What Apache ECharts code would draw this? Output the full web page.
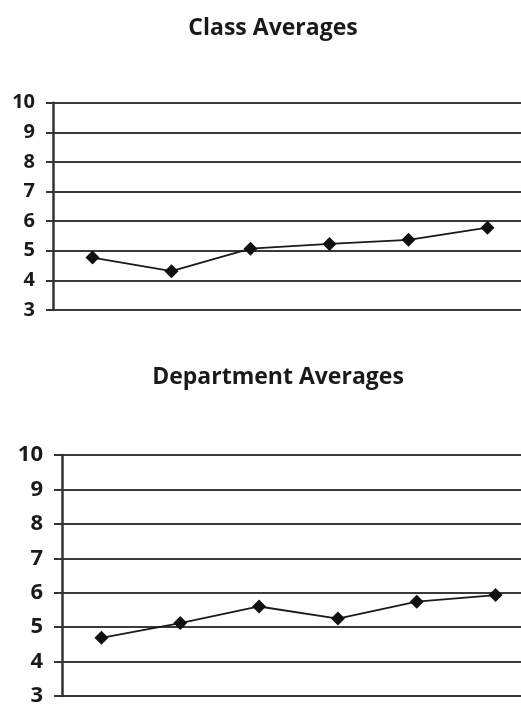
<!DOCTYPE html>
<html><head><meta charset="utf-8">
<script src="https://cdn.jsdelivr.net/npm/echarts@6/dist/echarts.min.js"></script>
<style>html,body{margin:0;padding:0;background:#fff;overflow:hidden;width:521px;height:704px}#c{width:540px;height:704px}</style>
</head><body><div id="c"></div>
<script>
var categories = ['1','2','3','4','5','6'];
var classAverages = [4.77, 4.31, 5.07, 5.23, 5.37, 5.78];
var departmentAverages = [4.69, 5.12, 5.6, 5.25, 5.74, 5.93];
var yTicks = [3,4,5,6,7,8,9,10];
var titles = ['Class Averages', 'Department Averages'];

var chart = echarts.init(document.getElementById('c'), null, {renderer:'canvas'});
function yAxis(idx, fs, margin, tl){
  return {type:'value', gridIndex:idx, min:yTicks[0], max:yTicks[yTicks.length-1], interval:1,
    axisLine:{show:true, lineStyle:{color:'#333', width:2.5}},
    axisTick:{show:true, length:tl, lineStyle:{color:'#333', width:2}},
    axisLabel:{fontFamily:'Open Sans', fontWeight:'bold', fontSize:fs, color:'#1a1a1a', margin:margin},
    splitLine:{show:true, lineStyle:{color:'#3a3a3a', width:2}}};
}
function xAxis(idx){
  return {type:'category', gridIndex:idx, data:categories, boundaryGap:true,
    axisLine:{show:false}, axisTick:{show:false}, axisLabel:{show:false}, splitLine:{show:false}};
}
function series(idx, data){
  return {type:'line', xAxisIndex:idx, yAxisIndex:idx, data:data, symbol:'diamond', symbolSize:14,
    lineStyle:{color:'#1a1a1a', width:1.8}, itemStyle:{color:'#111'}, animation:false};
}
chart.setOption({
  animation:false,
  title:[
    {text:titles[0], left:268, top:12, textAlign:'center', textStyle:{fontFamily:'Open Sans', fontWeight:'bold', fontSize:23, color:'#1a1a1a'}},
    {text:titles[1], left:273, top:361, textAlign:'center', textStyle:{fontFamily:'Open Sans', fontWeight:'bold', fontSize:23, color:'#1a1a1a'}}
  ],
  grid:[
    {left:53, width:474, top:102.7, height:207.3, outerBoundsMode:'none'},
    {left:62, width:473, top:455, height:241, outerBoundsMode:'none'}
  ],
  xAxis:[xAxis(0), xAxis(1)],
  yAxis:[yAxis(0,20,18,7), yAxis(1,22,19,8)],
  series:[series(0, classAverages), series(1, departmentAverages)]
});
</script></body></html>
